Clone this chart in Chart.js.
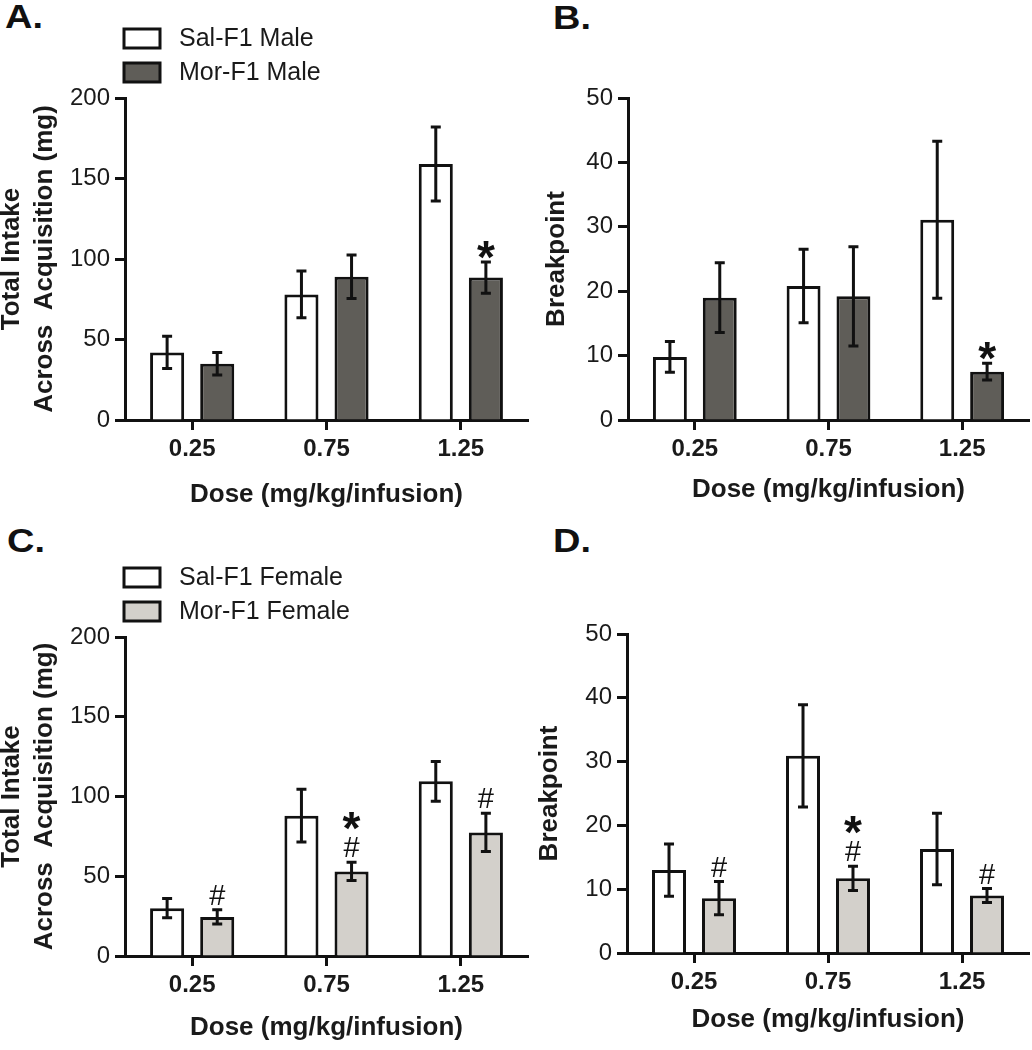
<!DOCTYPE html>
<html>
<head>
<meta charset="utf-8">
<script src="https://cdn.jsdelivr.net/npm/chart.js@4.4.1/dist/chart.umd.min.js"></script>
<style>
  body { margin: 0; background: #fff; width: 1032px; height: 1050px; position: relative; overflow: hidden; }
  .panel { position: absolute; }
  .letter { position: absolute; font: bold 33px Arial, "Liberation Sans", sans-serif; line-height: 1; color: #111;
            transform: scaleX(1.15); transform-origin: left top; }
</style>
</head>
<body>
<div class="letter" style="left:5px;top:0px">A.</div>
<div class="letter" style="left:553px;top:1px">B.</div>
<div class="letter" style="left:7px;top:524px">C.</div>
<div class="letter" style="left:553px;top:524px">D.</div>

<div class="panel" style="left:-4px;top:0;width:536px;height:520px"><canvas id="chartA"></canvas></div>
<div class="panel" style="left:528px;top:0;width:504px;height:520px"><canvas id="chartB"></canvas></div>
<div class="panel" style="left:-4px;top:520px;width:536px;height:530px"><canvas id="chartC"></canvas></div>
<div class="panel" style="left:528px;top:520px;width:504px;height:530px"><canvas id="chartD"></canvas></div>

<script>
const doses = ["0.25", "0.75", "1.25"];

// A. male, total intake (mg)
const salMaleIntake = [42, 78, 159];
const salMaleIntakeSem = [10, 14.5, 23];
const morMaleIntake = [35, 89, 88.5];
const morMaleIntakeSem = [7, 13.5, 9.7];
const morMaleIntakeMarks = [[], [], ["*"]];

// B. male, breakpoint
const salMaleBp = [9.8, 20.8, 31.1];
const salMaleBpSem = [2.4, 5.7, 12.2];
const morMaleBp = [19, 19.2, 7.5];
const morMaleBpSem = [5.4, 7.7, 1.3];
const morMaleBpMarks = [[], [], ["*"]];

// C. female, total intake (mg)
const salFemaleIntake = [30, 88, 109.5];
const salFemaleIntakeSem = [6, 16.5, 12.5];
const morFemaleIntake = [24.5, 53, 77.5];
const morFemaleIntakeSem = [4.5, 5.7, 12];
const morFemaleIntakeMarks = [["#"], ["*", "#"], ["#"]];

// D. female, breakpoint
const salFemaleBp = [13, 30.9, 16.3];
const salFemaleBpSem = [4.1, 8, 5.6];
const morFemaleBp = [8.6, 11.7, 9];
const morFemaleBpSem = [2.6, 1.9, 1.1];
const morFemaleBpMarks = [["#"], ["*", "#"], ["#"]];

const intakeTicks = [0, 50, 100, 150, 200];
const bpTicks = [0, 10, 20, 30, 40, 50];

const FONT = 'Arial, "Liberation Sans", sans-serif';
const INK = "#111";
const darkGrey = "#5f5d58";
const lightGrey = "#d3d0cb";

// error bars, significance marks and the optional legend
const extrasPlugin = {
  id: "extras",
  afterDatasetsDraw(chart) {
    const ctx = chart.ctx;
    const y = chart.scales.y;
    chart.data.datasets.forEach((ds, i) => {
      const meta = chart.getDatasetMeta(i);
      meta.data.forEach((bar, j) => {
        const v = ds.data[j];
        const e = ds.sem[j];
        const top = y.getPixelForValue(v + e);
        const bot = y.getPixelForValue(v - e);
        ctx.save();
        ctx.strokeStyle = INK;
        ctx.lineWidth = 3;
        ctx.beginPath();
        ctx.moveTo(bar.x, top);
        ctx.lineTo(bar.x, bot);
        ctx.moveTo(bar.x - 5, top);
        ctx.lineTo(bar.x + 5, top);
        ctx.moveTo(bar.x - 5, bot);
        ctx.lineTo(bar.x + 5, bot);
        ctx.stroke();

        const marks = ds.marks ? ds.marks[j] : [];
        ctx.fillStyle = INK;
        ctx.textAlign = "center";
        ctx.textBaseline = "alphabetic";
        for (let k = 0; k < marks.length; k++) {
          const m = marks[marks.length - 1 - k];
          const cy = top - 15 - k * 29;
          if (m === "*") {
            ctx.font = "bold 46px " + FONT;
            ctx.fillText(m, bar.x, cy + 26);
          } else {
            ctx.font = "29px " + FONT;
            ctx.fillText(m, bar.x, cy + 10);
          }
        }
        ctx.restore();
      });
    });
  },
  afterDraw(chart, args, opts) {
    if (!opts.show) return;
    const ctx = chart.ctx;
    const area = chart.chartArea;
    const x0 = area.left - 1;
    ctx.save();
    chart.data.datasets.forEach((ds, i) => {
      const boxTop = area.top - 69 + i * 34;
      ctx.fillStyle = ds.backgroundColor;
      ctx.fillRect(x0, boxTop, 36, 19);
      ctx.strokeStyle = INK;
      ctx.lineWidth = 3;
      ctx.strokeRect(x0, boxTop, 36, 19);
      ctx.fillStyle = "#1a1a1a";
      ctx.font = "25px " + FONT;
      ctx.textAlign = "left";
      ctx.textBaseline = "middle";
      ctx.fillText(ds.label, x0 + 55, boxTop + 10);
    });
    ctx.restore();
  }
};

function makeChart(id, p) {
  return new Chart(document.getElementById(id), {
    type: "bar",
    data: {
      labels: doses,
      datasets: [
        {
          label: p.labels[0],
          data: p.sal,
          sem: p.salSem,
          backgroundColor: "#ffffff",
          borderColor: INK,
          borderWidth: 3
        },
        {
          label: p.labels[1],
          data: p.mor,
          sem: p.morSem,
          marks: p.marks,
          backgroundColor: p.fill,
          borderColor: INK,
          borderWidth: 3
        }
      ]
    },
    options: {
      responsive: true,
      maintainAspectRatio: false,
      animation: false,
      events: [],
      layout: { padding: { top: p.padTop, right: p.padRight, left: 0, bottom: 0 } },
      datasets: { bar: { categoryPercentage: 0.746, barPercentage: 0.68 } },
      plugins: {
        legend: { display: false },
        tooltip: { enabled: false },
        extras: { show: p.legend }
      },
      scales: {
        x: {
          afterFit: (s) => { s.height = p.xH; },
          grid: { display: true, drawOnChartArea: false, drawTicks: true, offset: false,
                  tickLength: 10, tickWidth: 3, tickColor: INK },
          border: { display: true, width: 3, color: INK },
          ticks: { color: "#1a1a1a", padding: 5, font: { family: FONT, size: 24, weight: "bold" } },
          title: {
            display: true,
            text: "Dose (mg/kg/infusion)",
            color: "#1a1a1a",
            font: { family: FONT, size: 26, weight: "bold", lineHeight: 1.25 },
            padding: { top: 0, bottom: p.xTitlePad }
          }
        },
        y: {
          min: 0,
          max: p.ticks[p.ticks.length - 1],
          afterFit: (s) => { s.width = p.yW; },
          afterBuildTicks: (s) => { s.ticks = p.ticks.map((v) => ({ value: v })); },
          grid: { display: true, drawOnChartArea: false, drawTicks: true,
                  tickLength: 10, tickWidth: 3, tickColor: INK },
          border: { display: true, width: 3, color: INK },
          ticks: { color: "#1a1a1a", padding: 5, font: { family: FONT, size: 24 } },
          title: {
            display: true,
            text: p.yTitle,
            color: "#1a1a1a",
            font: { family: FONT, size: 26, weight: "bold", lineHeight: 1.25 },
            padding: { top: p.yTitlePad, bottom: 0 }
          }
        }
      }
    },
    plugins: [extrasPlugin]
  });
}

makeChart("chartA", {
  labels: ["Sal-F1 Male", "Mor-F1 Male"],
  sal: salMaleIntake, salSem: salMaleIntakeSem,
  mor: morMaleIntake, morSem: morMaleIntakeSem, marks: morMaleIntakeMarks,
  fill: darkGrey, ticks: intakeTicks, legend: true,
  yTitle: ["Total Intake", "Across  Acquisition (mg)"],
  padTop: 98, padRight: 4, yW: 129, xH: 100, xTitlePad: 8.75, yTitlePad: 0
});

makeChart("chartB", {
  labels: ["Sal-F1 Male", "Mor-F1 Male"],
  sal: salMaleBp, salSem: salMaleBpSem,
  mor: morMaleBp, morSem: morMaleBpSem, marks: morMaleBpMarks,
  fill: darkGrey, ticks: bpTicks, legend: false,
  yTitle: "Breakpoint",
  padTop: 98, padRight: 3, yW: 100, xH: 100, xTitlePad: 13.75, yTitlePad: 12.75
});

makeChart("chartC", {
  labels: ["Sal-F1 Female", "Mor-F1 Female"],
  sal: salFemaleIntake, salSem: salFemaleIntakeSem,
  mor: morFemaleIntake, morSem: morFemaleIntakeSem, marks: morFemaleIntakeMarks,
  fill: lightGrey, ticks: intakeTicks, legend: true,
  yTitle: ["Total Intake", "Across  Acquisition (mg)"],
  padTop: 117, padRight: 4, yW: 129, xH: 94, xTitlePad: 5.75, yTitlePad: 0
});

makeChart("chartD", {
  labels: ["Sal-F1 Female", "Mor-F1 Female"],
  sal: salFemaleBp, salSem: salFemaleBpSem,
  mor: morFemaleBp, morSem: morFemaleBpSem, marks: morFemaleBpMarks,
  fill: lightGrey, ticks: bpTicks, legend: false,
  yTitle: "Breakpoint",
  padTop: 114, padRight: 3, yW: 99, xH: 97, xTitlePad: 13.75, yTitlePad: 5.75
});
</script>
</body>
</html>
